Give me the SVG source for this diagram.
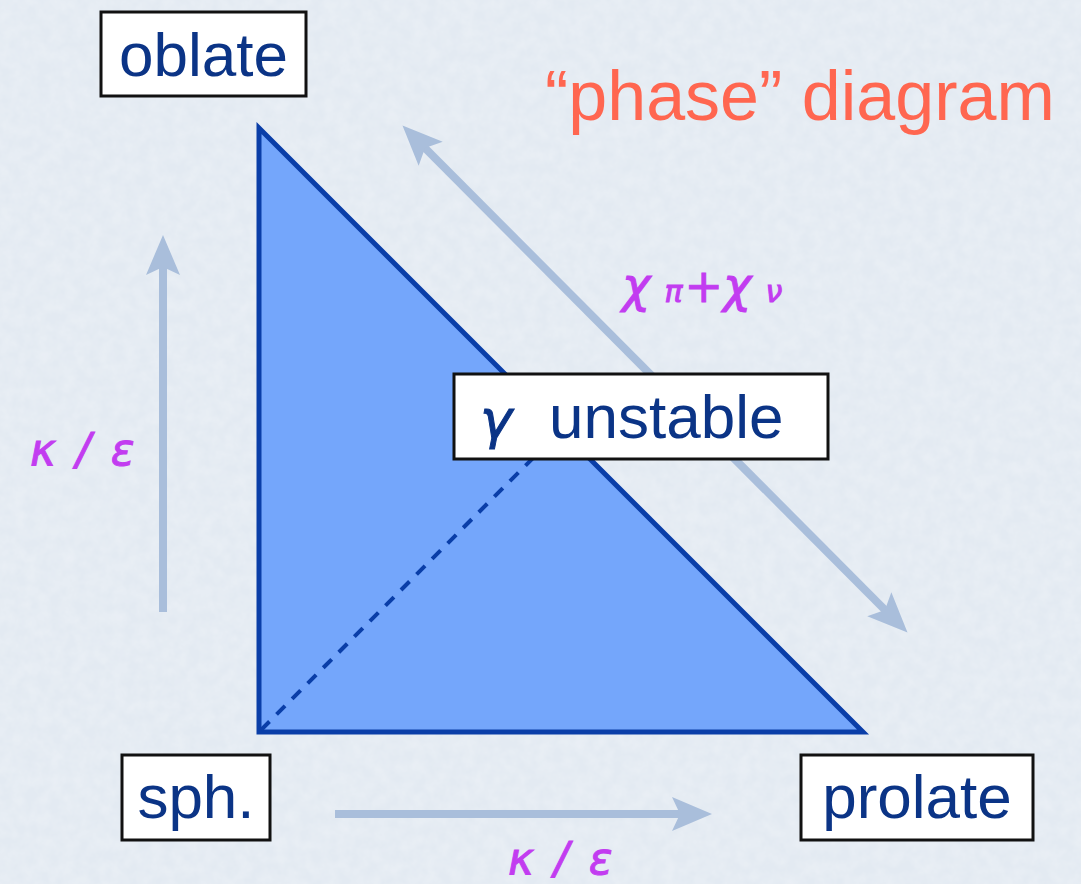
<svg xmlns="http://www.w3.org/2000/svg" width="1081" height="884" viewBox="0 0 1081 884">
  <style>
    .box { fill: #ffffff; stroke: #111111; stroke-width: 3; }
    .lbl { font-family: "Liberation Sans", Arial, sans-serif; font-size: 62px; fill: #0b3486; }
    .math { font-family: "DejaVu Sans", "Noto Sans", sans-serif; font-style: italic; fill: #c23cf0; stroke: #c23cf0; stroke-width: 1; }
    .axis { stroke: #a9bedb; stroke-width: 8; fill: none; }
  </style>
  <defs>
    <marker id="ah" markerUnits="userSpaceOnUse" markerWidth="44" markerHeight="38" refX="18" refY="19" orient="auto-start-reverse" viewBox="0 0 44 38">
      <path d="M0,2 L40,19 L0,36 L8,19 Z" fill="#a9bedb"/>
    </marker>
    <filter id="tex" x="0" y="0" width="100%" height="100%">
      <feTurbulence type="fractalNoise" baseFrequency="0.08" numOctaves="3" seed="3" result="n"/>
      <feColorMatrix in="n" type="matrix" values="0 0 0 0 1  0 0 0 0 1  0 0 0 0 1  0 0 0 0.35 -0.1" result="w"/>
      <feComposite in="w" in2="SourceGraphic" operator="over"/>
    </filter>
  </defs>
  <rect width="1081" height="884" fill="#e3eaf2" filter="url(#tex)"/>

  <g id="connectors">
    <line class="axis" x1="163" y1="612" x2="163" y2="257" marker-end="url(#ah)"/>
    <line class="axis" x1="335" y1="814" x2="690" y2="814" marker-end="url(#ah)"/>
    <line class="axis" x1="418" y1="141" x2="892" y2="617" marker-start="url(#ah)" marker-end="url(#ah)"/>
  </g>

  <g id="triangle">
    <polygon points="259,128 259,732 863,732" fill="#74a6fb" stroke="#0a3ea8" stroke-width="5" stroke-linejoin="miter"/>
    <line x1="261" y1="730" x2="534" y2="457" stroke="#0a3ea8" stroke-width="4" stroke-dasharray="12,10"/>
  </g>

  <g id="title">
    <text x="545" y="120" font-family="Liberation Sans, Arial, sans-serif" font-size="70" fill="#ff6650">“phase” diagram</text>
  </g>

  <g id="oblate">
    <rect class="box" x="101" y="12" width="205" height="84"/>
    <text class="lbl" x="203.5" y="76" text-anchor="middle">oblate</text>
  </g>

  <g id="unstable">
    <rect class="box" x="454" y="374" width="374" height="85"/>
    <text x="480" y="438" class="math" font-size="54" style="fill:#0b3486;stroke:#0b3486">γ</text>
    <text class="lbl" x="549" y="438">unstable</text>
  </g>

  <g id="sph">
    <rect class="box" x="122" y="755" width="148" height="85"/>
    <text class="lbl" x="196" y="818" text-anchor="middle">sph.</text>
  </g>

  <g id="prolate">
    <rect class="box" x="801" y="755" width="232" height="85"/>
    <text class="lbl" x="917" y="818" text-anchor="middle">prolate</text>
  </g>

  <g id="labels">
    <text class="math" x="30" y="465" font-size="44" letter-spacing="3">κ / ε</text>
    <text class="math" x="508" y="874" font-size="44" letter-spacing="3">κ / ε</text>
    <text class="math" x="622" y="302" stroke-width="1.6"><tspan font-size="48">χ</tspan><tspan font-size="30" dx="14">π</tspan><tspan font-size="46" font-style="normal" dx="2">+</tspan><tspan font-size="48">χ</tspan><tspan font-size="30" dx="14">ν</tspan></text>
  </g>
</svg>
